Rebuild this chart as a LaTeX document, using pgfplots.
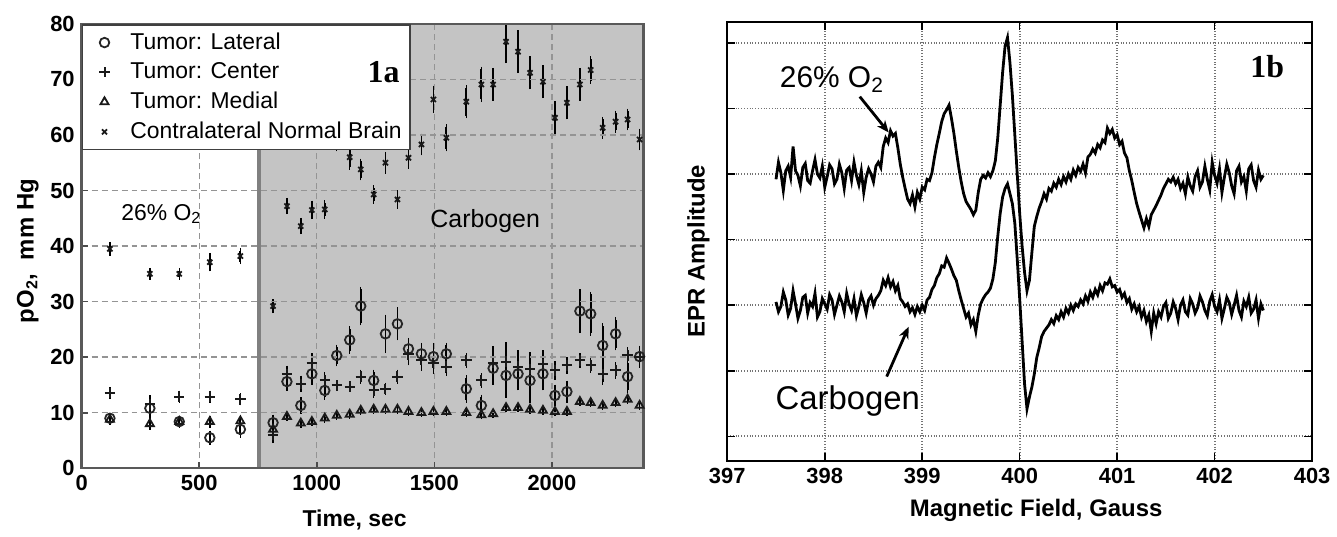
\documentclass[border=0pt]{standalone}
\usepackage{fontspec}
\setmainfont{Liberation Sans}
\newfontfamily\serifb{Liberation Serif}
\usepackage{pgfplots}
\usepackage{pgfplotstable}
\pgfplotsset{compat=1.18}
\usetikzlibrary{arrows.meta}

\pgfplotstableread{
t v e
120 9.0 0.5
290 10.8 1.5
415 8.4 0.6
545 5.5 0.8
675 7.0 1.0
814 8.2 1.0
873 15.6 1.2
932 11.3 1.0
979 17.0 1.5
1034 14.0 1.2
1085 20.3 1.5
1140 23.1 2.0
1187 29.2 3.0
1242 15.8 1.5
1292 24.2 3.0
1343 26.0 2.5
1390 21.5 1.5
1445 20.6 1.5
1496 20.1 2.0
1551 20.6 1.5
1636 14.3 2.0
1700 11.3 1.5
1750 18.0 2.5
1805 16.7 3.5
1856 17.0 2.5
1907 15.8 3.5
1962 17.0 2.5
2013 13.1 1.5
2064 13.8 1.5
2119 28.3 3.5
2165 27.8 3.5
2216 22.1 3.5
2271 24.2 2.5
2322 16.5 2.5
2373 20.1 1.5
}\tabLat

\pgfplotstableread{
t v e
120 13.5 0.6
290 11.5 1.2
415 12.9 0.6
545 12.9 0.6
675 12.4 0.6
814 6.0 1.0
873 17.0 1.0
932 15.2 1.0
979 19.0 1.2
1034 15.8 1.0
1085 14.9 0.5
1140 14.7 0.5
1187 16.5 0.8
1242 14.0 0.8
1292 14.3 0.6
1343 16.5 0.8
1390 20.5 1.5
1445 19.5 1.5
1496 19.0 1.5
1551 18.3 1.2
1636 19.4 0.8
1700 15.8 0.8
1750 19.0 2.5
1805 19.2 3.0
1856 18.3 2.5
1907 17.9 2.5
1962 18.8 2.0
2013 17.6 1.2
2064 18.5 1.0
2119 19.4 0.8
2165 18.5 0.8
2216 17.0 1.5
2271 17.6 1.0
2322 20.3 1.0
2373 20.0 1.0
}\tabCen

\pgfplotstableread{
t v e
120 8.8 0.5
290 8.0 0.6
415 8.4 0.5
545 8.4 0.6
675 8.5 0.6
814 7.0 0.8
873 9.3 0.3
932 8.1 0.3
979 8.4 0.3
1034 9.0 0.3
1085 9.5 0.3
1140 9.7 0.3
1187 10.4 0.3
1242 10.6 0.3
1292 10.6 0.3
1343 10.6 0.3
1390 10.2 0.3
1445 10.0 0.3
1496 10.2 0.3
1551 10.2 0.3
1636 10.0 0.3
1700 9.6 0.3
1750 9.8 0.3
1805 10.9 0.3
1856 10.9 0.3
1907 10.6 0.3
1962 10.4 0.3
2013 10.2 0.3
2064 10.2 0.3
2119 12.0 0.3
2165 11.8 0.3
2216 11.3 0.3
2271 11.8 0.3
2322 12.4 0.3
2373 11.3 0.3
}\tabMed

\pgfplotstableread{
t v e
120 39.5 0.8
290 35.0 0.6
415 35.0 0.6
545 37.1 1.2
675 38.2 1.0
814 29.2 0.8
873 47.2 1.0
932 43.6 1.0
979 46.5 1.2
1034 46.6 1.2
1085 59.0 1.5
1140 56.0 1.8
1187 53.8 1.5
1242 49.3 1.2
1292 55.0 1.5
1343 48.4 1.2
1390 55.9 1.5
1445 58.3 1.5
1496 66.4 2.0
1551 59.5 2.0
1636 66.0 2.5
1700 69.1 2.7
1750 69.1 2.5
1805 76.8 3.4
1856 75.0 3.4
1907 71.2 2.5
1962 69.6 2.5
2013 63.1 2.5
2064 65.8 2.5
2119 69.1 2.5
2165 71.7 2.0
2216 61.3 1.5
2271 62.4 1.5
2322 62.8 1.5
2373 59.2 1.5
}\tabNor

\pgfplotstableread{
x y
397.500 0.92
397.525 1.18
397.550 1.02
397.575 0.75
397.600 1.05
397.625 1.12
397.650 0.95
397.675 1.42
397.700 1.05
397.725 0.98
397.750 0.82
397.775 1.10
397.800 1.16
397.825 0.90
397.850 0.86
397.875 1.05
397.900 1.22
397.925 1.00
397.950 0.94
397.975 1.12
398.000 0.80
398.025 0.96
398.050 1.14
398.075 1.08
398.100 0.85
398.125 0.92
398.150 1.15
398.175 1.02
398.200 0.78
398.225 1.06
398.250 1.10
398.275 0.90
398.300 1.18
398.325 0.98
398.350 0.84
398.375 1.05
398.400 0.72
398.425 0.95
398.450 1.08
398.475 1.00
398.500 0.88
398.525 1.12
398.550 1.18
398.575 1.10
398.600 1.42
398.625 1.55
398.650 1.48
398.675 1.66
398.700 1.58
398.725 1.62
398.750 1.40
398.775 1.15
398.800 0.95
398.825 0.78
398.850 0.62
398.875 0.55
398.900 0.68
398.925 0.50
398.950 0.72
398.975 0.62
399.000 0.80
399.025 0.76
399.050 0.92
399.075 0.90
399.100 1.02
399.125 1.25
399.150 1.45
399.175 1.62
399.200 1.80
399.225 1.92
399.250 1.98
399.275 2.05
399.300 1.85
399.325 1.62
399.350 1.35
399.375 1.10
399.400 0.88
399.425 0.70
399.450 0.58
399.475 0.52
399.500 0.46
399.525 0.38
399.550 0.45
399.575 0.72
399.600 0.92
399.625 0.98
399.650 0.94
399.675 1.02
399.700 0.96
399.725 1.05
399.750 1.20
399.775 1.55
399.800 2.05
399.825 2.55
399.850 2.95
399.875 3.08
399.900 2.70
399.925 2.20
399.950 1.60
399.975 1.00
400.000 0.40
400.025 -0.10
400.050 -0.50
400.075 -0.78
400.100 -0.62
400.125 -0.20
400.150 0.20
400.175 0.35
400.200 0.48
400.225 0.58
400.250 0.70
400.275 0.62
400.300 0.78
400.325 0.74
400.350 0.86
400.375 0.80
400.400 0.92
400.425 0.84
400.450 0.96
400.475 0.88
400.500 1.00
400.525 0.92
400.550 1.06
400.575 0.98
400.600 1.10
400.625 1.04
400.650 1.15
400.675 1.02
400.700 1.26
400.725 1.30
400.750 1.38
400.775 1.32
400.800 1.45
400.825 1.40
400.850 1.52
400.875 1.48
400.900 1.70
400.925 1.62
400.950 1.68
400.975 1.55
401.000 1.60
401.025 1.45
401.050 1.50
401.075 1.32
401.100 1.25
401.125 1.05
401.150 0.90
401.175 0.72
401.200 0.55
401.225 0.42
401.250 0.30
401.275 0.18
401.300 0.32
401.325 0.20
401.350 0.38
401.375 0.45
401.400 0.52
401.425 0.60
401.450 0.68
401.475 0.78
401.500 0.85
401.525 0.92
401.550 0.88
401.575 0.95
401.600 0.85
401.625 0.92
401.650 0.78
401.675 0.86
401.700 0.70
401.725 0.95
401.750 0.82
401.775 0.74
401.800 0.96
401.825 1.05
401.850 0.80
401.875 0.88
401.900 1.12
401.925 0.92
401.950 0.76
401.975 1.18
402.000 0.98
402.025 0.86
402.050 1.08
402.075 0.72
402.100 0.95
402.125 1.15
402.150 1.02
402.175 0.82
402.200 0.70
402.225 1.05
402.250 1.12
402.275 0.88
402.300 0.96
402.325 0.74
402.350 1.08
402.375 1.14
402.400 0.90
402.425 0.80
402.450 1.06
402.475 0.92
402.500 0.98
}\topspec

\pgfplotstableread{
x y
397.500 -0.95
397.525 -1.10
397.550 -1.02
397.575 -0.80
397.600 -0.92
397.625 -1.15
397.650 -1.05
397.675 -0.78
397.700 -0.98
397.725 -1.20
397.750 -1.08
397.775 -0.88
397.800 -0.85
397.825 -1.12
397.850 -0.96
397.875 -1.02
397.900 -0.82
397.925 -1.18
397.950 -1.10
397.975 -0.90
398.000 -0.98
398.025 -1.06
398.050 -0.84
398.075 -0.92
398.100 -1.14
398.125 -1.00
398.150 -0.86
398.175 -0.95
398.200 -1.10
398.225 -0.82
398.250 -0.98
398.275 -1.08
398.300 -0.90
398.325 -1.16
398.350 -1.02
398.375 -0.84
398.400 -0.96
398.425 -1.12
398.450 -0.92
398.475 -0.86
398.500 -1.00
398.525 -0.90
398.550 -0.85
398.575 -0.78
398.600 -0.62
398.625 -0.70
398.650 -0.58
398.675 -0.72
398.700 -0.64
398.725 -0.78
398.750 -0.70
398.775 -0.90
398.800 -0.95
398.825 -1.02
398.850 -0.98
398.875 -1.10
398.900 -1.04
398.925 -1.14
398.950 -1.02
398.975 -1.10
399.000 -1.00
399.025 -1.08
399.050 -0.92
399.075 -0.88
399.100 -0.76
399.125 -0.70
399.150 -0.58
399.175 -0.52
399.200 -0.40
399.225 -0.42
399.250 -0.28
399.275 -0.36
399.300 -0.45
399.325 -0.55
399.350 -0.62
399.375 -0.78
399.400 -0.92
399.425 -1.05
399.450 -1.18
399.475 -1.12
399.500 -1.30
399.525 -1.22
399.550 -1.40
399.575 -1.15
399.600 -0.98
399.625 -0.90
399.650 -0.84
399.675 -0.80
399.700 -0.74
399.725 -0.60
399.750 -0.35
399.775 0.05
399.800 0.40
399.825 0.65
399.850 0.78
399.875 0.85
399.900 0.70
399.925 0.55
399.950 0.25
399.975 -0.30
400.000 -0.90
400.025 -1.55
400.050 -2.20
400.075 -2.58
400.100 -2.40
400.125 -2.25
400.150 -2.05
400.175 -1.80
400.200 -1.65
400.225 -1.48
400.250 -1.40
400.275 -1.35
400.300 -1.30
400.325 -1.22
400.350 -1.28
400.375 -1.16
400.400 -1.22
400.425 -1.10
400.450 -1.18
400.475 -1.05
400.500 -1.12
400.525 -1.00
400.550 -1.08
400.575 -0.98
400.600 -1.02
400.625 -0.92
400.650 -0.98
400.675 -0.86
400.700 -0.94
400.725 -0.80
400.750 -0.88
400.775 -0.76
400.800 -0.84
400.825 -0.70
400.850 -0.78
400.875 -0.66
400.900 -0.68
400.925 -0.60
400.950 -0.72
400.975 -0.70
401.000 -0.80
401.025 -0.76
401.050 -0.88
401.075 -0.82
401.100 -0.96
401.125 -0.90
401.150 -1.06
401.175 -0.98
401.200 -1.10
401.225 -1.02
401.250 -1.18
401.275 -1.08
401.300 -1.25
401.325 -1.15
401.350 -1.40
401.375 -1.12
401.400 -1.28
401.425 -1.10
401.450 -1.18
401.475 -1.02
401.500 -0.96
401.525 -1.20
401.550 -1.12
401.575 -0.95
401.600 -1.05
401.625 -1.22
401.650 -1.00
401.675 -0.92
401.700 -1.10
401.725 -1.15
401.750 -0.90
401.775 -0.98
401.800 -1.12
401.825 -1.04
401.850 -0.86
401.875 -0.95
401.900 -1.08
401.925 -1.16
401.950 -0.94
401.975 -0.84
402.000 -1.02
402.025 -1.10
402.050 -0.92
402.075 -1.20
402.100 -1.05
402.125 -0.88
402.150 -0.96
402.175 -1.14
402.200 -1.00
402.225 -0.85
402.250 -1.08
402.275 -1.18
402.300 -0.94
402.325 -1.02
402.350 -0.88
402.375 -1.12
402.400 -1.06
402.425 -0.92
402.450 -1.20
402.475 -0.98
402.500 -1.08
}\botspec

\begin{document}
\begin{tikzpicture}

% ---------------- 1a ----------------
\begin{axis}[
  axis on top,
  scale only axis, width=282pt, height=223pt,
  at={(41pt,-235pt)}, anchor=south west,
  xmin=0, xmax=2390, ymin=0, ymax=80,
  xtick={0,500,1000,1500,2000}, ytick={0,10,...,80},
  scaled ticks=false,
  /pgf/number format/1000 sep={},
  /pgf/number format/assume math mode=true,
  ticklabel style={font=\bfseries\fontsize{11}{13}\selectfont},
  tick align=inside, tick pos=left,
  major tick length=3pt,
  grid=major,
  major grid style={dash pattern=on 3pt off 2pt, line width=0.7pt, black!42},
  axis line style={line width=1.2pt, black!65},
  every tick/.style={black!70, line width=0.8pt},
  legend style={at={(0,1)}, anchor=north west, draw=black!75, line width=0.9pt,
    fill=white, font=\fontsize{11.5}{13.5}\selectfont, inner sep=2pt,
    row sep=1.2pt},
  legend cell align=left,
  legend image code/.code={\path[draw=none, fill=none] (0pt,0pt) -- (20pt,0pt); \draw[#1] plot coordinates {(9pt,0pt)};},
  error bars/y dir=both, error bars/y explicit,
  error bars/error bar style={line width=0.9pt, black},
  error bars/error mark options={black, mark size=1.3pt, line width=0.7pt},
]
\addplot[fill=black!23, draw=none, forget plot]
  coordinates {(755,0) (755,80) (2390,80) (2390,0) (755,0)};
\addplot[black!50, line width=2.2pt, forget plot]
  coordinates {(755,0) (755,80)};

\addplot[only marks, mark=o, mark size=2.4pt, mark options={line width=0.9pt, draw=black!85, fill=none}]
  table[x=t, y=v, y error=e] {\tabLat};
\addlegendentry{Tumor: Lateral}
\addplot[only marks, mark=+, mark size=2.6pt, mark options={line width=1pt, draw=black!90}]
  table[x=t, y=v, y error=e] {\tabCen};
\addlegendentry{Tumor: Center}
\addplot[only marks, mark=triangle, mark size=2.3pt, mark options={line width=0.9pt, draw=black!90, fill=none}]
  table[x=t, y=v, y error=e] {\tabMed};
\addlegendentry{Tumor: Medial}
\addplot[only marks, mark=x, mark size=1.8pt, mark options={line width=0.9pt, draw=black!90}]
  table[x=t, y=v, y error=e] {\tabNor};
\addlegendentry{Contralateral Normal Brain}
\end{axis}

% ---------------- 1b ----------------
\begin{axis}[
  scale only axis, width=293.5pt, height=220.5pt,
  at={(365pt,-231.5pt)}, anchor=south west,
  xmin=397, xmax=403, ymin=-3.38, ymax=3.32,
  xtick={397,398,...,403}, ytick={-3,-2,...,3},
  yticklabels={},
  scaled ticks=false,
  /pgf/number format/assume math mode=true,
  ticklabel style={font=\bfseries\fontsize{11}{13}\selectfont},
  tick align=inside, tick pos=both,
  major tick length=4pt,
  grid=major,
  major grid style={densely dotted, line width=0.9pt, black!55},
  axis line style={line width=1.1pt, black},
  every tick/.style={black, line width=0.8pt},
]
\addplot[black, line width=1.4pt] table[x=x, y=y] {\topspec};
\addplot[black, line width=1.4pt] table[x=x, y=y] {\botspec};
\end{axis}

% ---------------- annotations ----------------
\node[font=\bfseries\fontsize{12}{14}\selectfont, rotate=90] at (14pt,-126pt) {pO\textsubscript{2},\ \ mm Hg};
\node[font=\bfseries\fontsize{11.5}{14}\selectfont] at (178pt,-261pt) {Time, sec};
\node[font=\serifb\bfseries\fontsize{16}{18}\selectfont] at (192.5pt,-36pt) {1a};
\node[font=\fontsize{11.5}{13}\selectfont] at (81pt,-107.5pt) {26\% O\textsubscript{2}};
\node[font=\fontsize{12.5}{14}\selectfont] at (243.5pt,-111pt) {Carbogen};

\node[font=\bfseries\fontsize{12}{14}\selectfont, rotate=90] at (350.5pt,-126pt) {EPR Amplitude};
\node[font=\bfseries\fontsize{12}{14}\selectfont] at (520pt,-256pt) {Magnetic Field, Gauss};
\node[font=\serifb\bfseries\fontsize{16}{18}\selectfont] at (636pt,-33.5pt) {1b};
\node[font=\fontsize{15}{17}\selectfont] at (417.5pt,-40pt) {26\% O\textsubscript{2}};
\draw[-{Stealth[length=6pt,width=5pt]}, line width=1.4pt] (431.5pt,-48.5pt) -- (446pt,-66.5pt);
\node[font=\fontsize{16.5}{18}\selectfont] at (425.5pt,-201.5pt) {Carbogen};
\draw[-{Stealth[length=6pt,width=5pt]}, line width=1.4pt] (445pt,-189pt) -- (456pt,-164pt);

\path (0,0) rectangle (668.5pt,-268pt);
\end{tikzpicture}
\end{document}
